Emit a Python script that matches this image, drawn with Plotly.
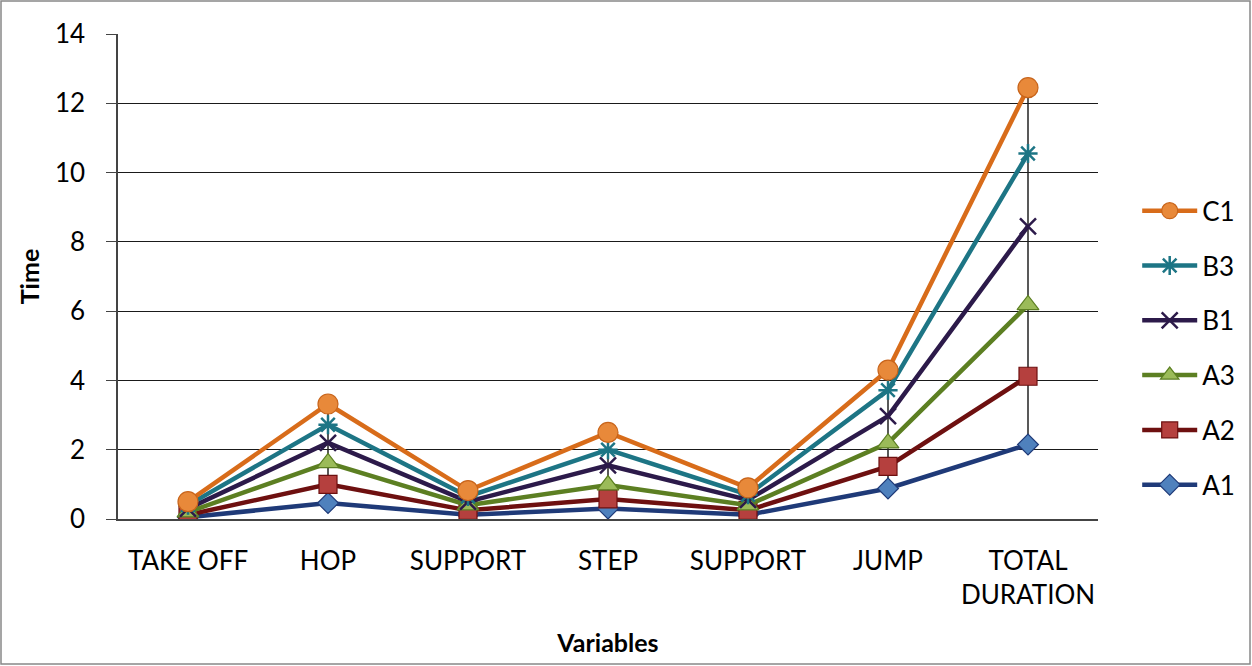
import plotly.graph_objects as go

categories = ["TAKE OFF", "HOP", "SUPPORT", "STEP", "SUPPORT", "JUMP", "TOTAL<br>DURATION"]
A1 = [0.05, 0.46, 0.12, 0.30, 0.12, 0.88, 2.15]
A2 = [0.12, 1.00, 0.25, 0.58, 0.25, 1.52, 4.12]
A3 = [0.20, 1.62, 0.40, 0.98, 0.40, 2.19, 6.18]
B1 = [0.30, 2.20, 0.50, 1.55, 0.55, 2.97, 8.45]
B3 = [0.40, 2.72, 0.65, 2.00, 0.70, 3.72, 10.55]
C1 = [0.50, 3.32, 0.82, 2.50, 0.90, 4.30, 12.45]
y_ticks = [0, 2, 4, 6, 8, 10, 12, 14]

x = list(range(len(categories)))
series = [
    ("A1", A1, "#1F3A78", "diamond", "#4F81BD", "#1F3A78", 16),
    ("A2", A2, "#6E1010", "square", "#B5403E", "#6E1010", 18),
    ("A3", A3, "#5C7F22", "triangle-up", "#9BBB59", "#5C7F22", 19),
    ("B1", B1, "#2C1A4A", "x-thin-open", "#2C1A4A", "#2C1A4A", 16),
    ("B3", B3, "#1D7585", "asterisk-open", "#1D7585", "#1D7585", 16),
    ("C1", C1, "#D86C1A", "circle", "#E8893A", "#C8641A", 20),
]

fig = go.Figure()

# high-low lines computed from the data
hl_x, hl_y = [], []
all_vals = [s[1] for s in series]
for i in x:
    col = [v[i] for v in all_vals]
    hl_x += [i, i, None]
    hl_y += [min(col), max(col), None]
fig.add_trace(go.Scatter(x=hl_x, y=hl_y, mode="lines", line=dict(color="#222222", width=1.5),
                         showlegend=False, hoverinfo="skip"))

n = len(series)
for k, (name, vals, lc, sym, mfill, mline, msize) in enumerate(series):
    fig.add_trace(go.Scatter(
        x=x, y=vals, name=name, mode="lines+markers", legendgroup=name,
        legendrank=n - k,
        line=dict(color=lc, width=4.5),
        marker=dict(symbol=sym, size=msize, color=mfill,
                    line=dict(color=mline, width=2.5 if "open" in sym else 1.2)),
    ))

W, H = 1252, 666
l, r, t, b = 118, 154, 34, 147
pw, ph = W - l - r, H - t - b

fig.update_layout(
    width=W, height=H,
    margin=dict(l=l, r=r, t=t, b=b),
    paper_bgcolor="white", plot_bgcolor="white",
    font=dict(family="Lato, Noto Sans, sans-serif", size=26, color="#000000"),
    showlegend=True,
    legend=dict(traceorder="grouped", x=1.04, y=0.353, xanchor="left", yanchor="middle",
                tracegroupgap=18, font=dict(size=26), itemwidth=55,
                bgcolor="rgba(0,0,0,0)"),
    xaxis=dict(
        range=[-0.5, 6.5], tickvals=x, ticktext=categories, showgrid=False,
        showline=True, linecolor="#444444", linewidth=1.5, ticks="", zeroline=False,
        ticklabelstandoff=18,
        title=dict(text="<b>Variables</b>", font=dict(size=25), standoff=26),
    ),
    yaxis=dict(
        range=[0, 14], tickvals=y_ticks, showgrid=True, gridcolor="#1a1a1a", gridwidth=1.3,
        showline=True, linecolor="#444444", linewidth=1.5, ticks="outside", ticklen=10,
        tickcolor="#444444", zeroline=False, ticklabelstandoff=16,
        title=dict(text="<b>Time</b>", font=dict(size=25), standoff=8),
    ),
    shapes=[dict(type="rect", xref="paper", yref="paper",
                 x0=(-l + 1) / pw, x1=1 + (r - 2) / pw,
                 y0=-(b - 2) / ph, y1=1 + (t - 1) / ph,
                 line=dict(color="#888888", width=1.5), fillcolor="rgba(0,0,0,0)", layer="below")],
)

fig.write_html("out.html")
